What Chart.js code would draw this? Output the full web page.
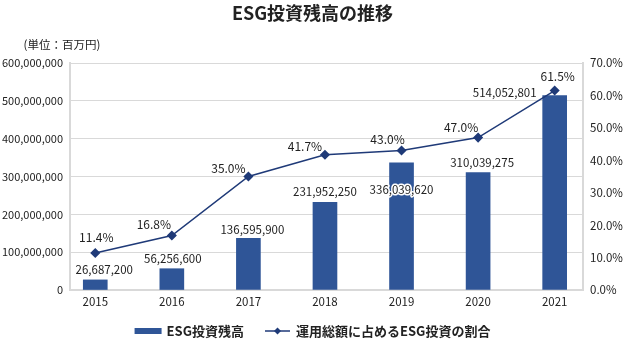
<!DOCTYPE html>
<html><head><meta charset="utf-8">
<script src="https://cdn.jsdelivr.net/npm/chart.js@4"></script>
<style>html,body{margin:0;padding:0;background:#fff}</style>
</head><body>
<canvas id="c" width="625" height="342"></canvas>
<script>
const years = [2015, 2016, 2017, 2018, 2019, 2020, 2021];
const esgBalance = [26687200, 56256600, 136595900, 231952250, 336039620, 310039275, 514052801];
const esgShare = [11.4, 16.8, 35.0, 41.7, 43.0, 47.0, 61.5];
const leftTicks = [0, 100000000, 200000000, 300000000, 400000000, 500000000, 600000000];
const rightTicks = [0, 10, 20, 30, 40, 50, 60, 70];
const titleText = 'ESG投資残高の推移';
const unitText = '(単位：百万円)';
const barName = 'ESG投資残高';
const lineName = '運用総額に占めるESG投資の割合';

const FONT = "'Noto Sans CJK JP', 'Noto Sans', sans-serif";
const TXT = '#222';
const GRID = '#d9d9d9';
const BAR = '#2f5597';
const LINE = '#1f3a78';

// label placement tweaks (pixels relative to mark)
const barLabelOffsets = [[9,-10],[1,-10],[4,-9],[0,-11],[0,27],[4,-10],[-50,-3]];
const lineLabelOffsets = [[1,-16],[-18,-11],[-20,-8],[-20,-8],[-14,-11],[-17,-10],[3,-14]];

const fmtNum = v => Number(v).toLocaleString('en-US');
const fmtPct = v => Number(v).toFixed(1) + '%';

const labelPlugin = {
  id: 'labels',
  afterDatasetsDraw(chart) {
    const ctx = chart.ctx;
    ctx.save();
    ctx.textAlign = 'center';
    ctx.textBaseline = 'middle';
    ctx.font = '11.5px ' + FONT;
    const barMeta = chart.getDatasetMeta(1);
    barMeta.data.forEach((el, i) => {
      const [dx, dy] = barLabelOffsets[i];
      const t = fmtNum(esgBalance[i]);
      const x = el.x + dx, y = el.y + dy;
      if (dy > 0) {
        ctx.strokeStyle = '#fff'; ctx.lineWidth = 3; ctx.lineJoin = 'round';
        ctx.strokeText(t, x, y);
      }
      ctx.fillStyle = TXT;
      ctx.fillText(t, x, y);
    });
    ctx.font = '12px ' + FONT;
    const lineMeta = chart.getDatasetMeta(0);
    lineMeta.data.forEach((el, i) => {
      const [dx, dy] = lineLabelOffsets[i];
      ctx.fillStyle = TXT;
      ctx.fillText(fmtPct(esgShare[i]), el.x + dx, el.y + dy);
    });
    ctx.restore();
  },
  afterDraw(chart) {
    const ctx = chart.ctx;
    ctx.save();
    ctx.font = '11.5px ' + FONT;
    ctx.fillStyle = TXT;
    ctx.textAlign = 'center';
    ctx.textBaseline = 'middle';
    ctx.fillText(unitText, 62, 45);
    ctx.font = 'bold 13px ' + FONT;
    const w1 = ctx.measureText(barName).width;
    const w2 = ctx.measureText(lineName).width;
    const sw = 27, g1 = 5, gap = 21, lw = 25, g2 = 6;
    const total = sw + g1 + w1 + gap + lw + g2 + w2;
    let x = chart.width / 2 - total / 2;
    const y = 331;
    ctx.fillStyle = BAR;
    ctx.fillRect(x, y - 3, sw, 6);
    x += sw + g1;
    ctx.fillStyle = TXT;
    ctx.textAlign = 'left';
    ctx.fillText(barName, x, y);
    x += w1 + gap;
    ctx.strokeStyle = LINE; ctx.lineWidth = 1.5;
    ctx.beginPath(); ctx.moveTo(x, y); ctx.lineTo(x + lw, y); ctx.stroke();
    ctx.fillStyle = LINE;
    const cx = x + lw / 2, r = 3.5;
    ctx.beginPath(); ctx.moveTo(cx, y - r); ctx.lineTo(cx + r, y); ctx.lineTo(cx, y + r); ctx.lineTo(cx - r, y); ctx.closePath(); ctx.fill();
    x += lw + g2;
    ctx.fillStyle = TXT;
    ctx.fillText(lineName, x, y);
    ctx.restore();
  }
};

new Chart(document.getElementById('c'), {
  data: {
    labels: years,
    datasets: [
      {
        type: 'line', label: lineName, yAxisID: 'y1', order: 0,
        data: years.map((yr, i) => ({x: yr, y: esgShare[i]})),
        borderColor: LINE, borderWidth: 1.5, backgroundColor: LINE,
        pointStyle: 'rectRot', pointRadius: 4, pointBackgroundColor: LINE, pointBorderColor: LINE,
        tension: 0
      },
      {
        type: 'bar', label: barName, yAxisID: 'y', order: 1,
        data: years.map((yr, i) => ({x: yr, y: esgBalance[i]})),
        backgroundColor: BAR, barThickness: 24
      }
    ]
  },
  options: {
    responsive: false, animation: false, devicePixelRatio: 1,
    layout: {padding: {left: 0, right: 0, top: 0, bottom: 0}},
    plugins: {
      legend: {display: false},
      tooltip: {enabled: false},
      title: {display: true, text: titleText, color: TXT,
        font: {family: FONT, size: 18, weight: 'bold', lineHeight: 1.2},
        padding: {top: 2, bottom: 39.4}}
    },
    scales: {
      x: {
        type: 'linear', min: 2014.67, max: 2021.37, offset: false,
        afterFit: s => { s.height = 52; },
        grid: {display: false, drawTicks: false},
        border: {display: true, color: GRID, width: 1.5},
        ticks: {stepSize: 1, includeBounds: false, padding: 5, color: TXT,
          font: {family: FONT, size: 11.5}, callback: v => String(v)}
      },
      y: {
        position: 'left', min: 0, max: 600000000,
        afterFit: s => { s.width = 70; },
        afterBuildTicks: s => { s.ticks = leftTicks.map(v => ({value: v})); },
        grid: {color: GRID, lineWidth: 1, drawTicks: false},
        border: {display: true, color: GRID, width: 2},
        ticks: {padding: 7, color: TXT, font: {family: FONT, size: 11}, callback: v => fmtNum(v)}
      },
      y1: {
        position: 'right', min: 0, max: 70,
        afterFit: s => { s.width = 42; },
        afterBuildTicks: s => { s.ticks = rightTicks.map(v => ({value: v})); },
        grid: {display: false, drawTicks: false},
        border: {display: true, color: GRID, width: 2},
        ticks: {padding: 7, color: TXT, font: {family: FONT, size: 11.5}, callback: v => fmtPct(v)}
      }
    }
  },
  plugins: [labelPlugin]
});
</script>
</body></html>
